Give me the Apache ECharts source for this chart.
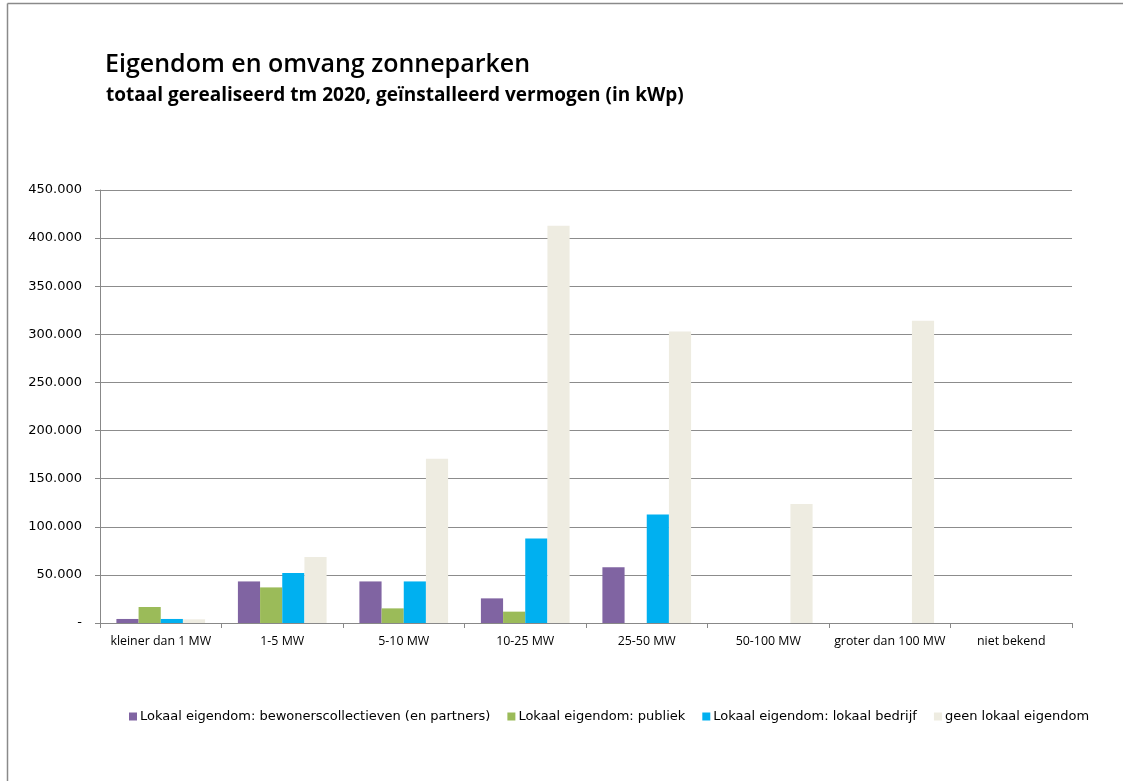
<!DOCTYPE html>
<html>
<head>
<meta charset="utf-8">
<script src="https://cdn.jsdelivr.net/npm/echarts@6/dist/echarts.min.js"></script>
<style>
html,body{margin:0;padding:0;background:#fff;}
#c{width:1123px;height:781px;}
</style>
</head>
<body>
<div id="c"></div>
<script>
const categories = ['kleiner dan 1 MW','1-5 MW','5-10 MW','10-25 MW','25-50 MW','50-100 MW','groter dan 100 MW','niet bekend'];
const seriesNames = ['Lokaal eigendom: bewonerscollectieven (en partners)','Lokaal eigendom: publiek','Lokaal eigendom: lokaal bedrijf','geen lokaal eigendom'];
const bewoners = [4200, 43200, 43200, 25600, 58000, 0, 0, 0];
const publiek = [16600, 37000, 15200, 11800, 0, 0, 0, 0];
const bedrijf = [4200, 52000, 43200, 87900, 112800, 0, 0, 0];
const geen = [3800, 68500, 170800, 412800, 303000, 123600, 314200, 0];
const colors = ['#8064A2','#9BBB59','#00B0F0','#EEECE1'];
const yTicks = [0,50000,100000,150000,200000,250000,300000,350000,400000,450000];

const chart = echarts.init(document.getElementById('c'));
const fmt = v => v === 0 ? '-' : v.toString().replace(/\B(?=(\d{3})+(?!\d))/g, '.');
const font = '"Open Sans", sans-serif';
const wide = '"DejaVu Sans", sans-serif';
const mk = (name, data, i) => ({
  name, type: 'bar', data, barGap: '0%', barCategoryGap: '27%',
  itemStyle: {color: colors[i]}, emphasis: {disabled: true}
});
chart.setOption({
  animation: false,
  backgroundColor: '#fff',
  graphic: [
    {type: 'line', shape: {x1: 7.5, y1: 3.5, x2: 1123, y2: 3.5}, style: {stroke: '#8a8a8a', lineWidth: 1.5}},
    {type: 'line', shape: {x1: 7.5, y1: 3.5, x2: 7.5, y2: 781}, style: {stroke: '#8a8a8a', lineWidth: 1.5}},
    {type: 'text', left: 105, top: 52, style: {text: 'Eigendom en omvang zonneparken', font: '600 25px "Open Sans", sans-serif', fill: '#000'}},
    {type: 'text', left: 106, top: 86, style: {text: 'totaal gerealiseerd tm 2020, geïnstalleerd vermogen (in kWp)', font: 'bold 19px "Open Sans", sans-serif', fill: '#000'}}
  ],
  legend: {
    bottom: 53, left: 124, itemWidth: 8, itemHeight: 8, itemGap: 17,
    icon: 'rect',
    textStyle: {fontFamily: wide, fontSize: 13, color: '#000', padding: [0,0,0,-2]},
    data: seriesNames
  },
  grid: {left: 100, right: 51, top: 190, bottom: 158},
  xAxis: {
    type: 'category', data: categories,
    axisLine: {lineStyle: {color: '#888'}},
    axisTick: {show: true, alignWithLabel: false, length: 5, lineStyle: {color: '#888'}},
    axisLabel: {fontFamily: font, fontSize: 12.4, color: '#000', margin: 12, interval: 0}
  },
  yAxis: {
    type: 'value', min: 0, max: 450000, interval: 50000,
    axisLine: {show: true, lineStyle: {color: '#888'}},
    axisTick: {show: true, length: 5, inside: false, lineStyle: {color: '#888'}},
    splitLine: {lineStyle: {color: '#8c8c8c'}},
    axisLabel: {fontFamily: wide, fontSize: 13, color: '#000', margin: 18, formatter: fmt,
      customValues: yTicks}
  },
  series: [mk(seriesNames[0], bewoners, 0), mk(seriesNames[1], publiek, 1), mk(seriesNames[2], bedrijf, 2), mk(seriesNames[3], geen, 3)]
});
</script>
</body>
</html>
